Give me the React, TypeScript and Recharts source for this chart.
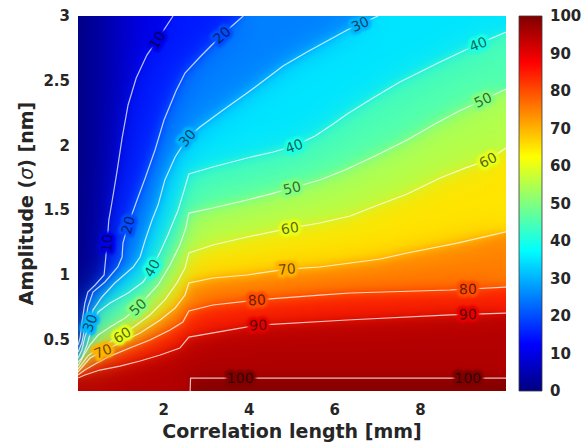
import React from "react"
import {
  Area,
  Bar,
  BarChart,
  CartesianGrid,
  ComposedChart,
  Label,
  Line,
  Scatter,
  XAxis,
  YAxis,
} from "recharts"

// contour lines: [correlation length (mm), amplitude (nm)]
const c10: [number, number][] = [
  [0, 0.456], [0.05, 0.51], [0.09, 0.626], [0.16, 0.78], [0.23, 0.865], [0.4, 0.92],
  [0.61, 0.997], [0.65, 1.136], [0.68, 1.244], [0.72, 1.422], [0.79, 1.554], [0.91, 1.794],
  [1.03, 2.056], [1.17, 2.312], [1.36, 2.52], [1.61, 2.698], [1.85, 2.814], [2.22, 3.0],
]
const c20: [number, number][] = [
  [0, 0.401], [0.09, 0.471], [0.16, 0.595], [0.23, 0.749], [0.35, 0.865], [0.63, 0.943],
  [0.93, 1.059], [1.03, 1.136], [1.05, 1.244], [1.17, 1.384], [1.38, 1.577], [1.57, 1.747],
  [1.8, 1.964], [2.01, 2.196], [2.29, 2.42], [2.5, 2.559], [2.85, 2.683], [3.36, 2.853], [3.86, 3.0],
]
const c30: [number, number][] = [
  [0, 0.355], [0.09, 0.417], [0.16, 0.517], [0.28, 0.626], [0.35, 0.726], [0.56, 0.827],
  [0.86, 0.935], [1.29, 1.059], [1.45, 1.136], [1.57, 1.268], [1.73, 1.422], [1.87, 1.538],
  [2.03, 1.732], [2.27, 1.91], [2.55, 2.056], [2.85, 2.142], [3.39, 2.273], [3.95, 2.404],
  [4.42, 2.52], [4.79, 2.613], [5.35, 2.722], [5.82, 2.807], [6.29, 2.892], [6.59, 2.938], [7.01, 3.0],
]
const c40: [number, number][] = [
  [0, 0.324], [0.09, 0.355], [0.21, 0.456], [0.33, 0.595], [0.47, 0.711], [0.75, 0.78],
  [1.17, 0.858], [1.52, 0.943], [1.73, 1.051], [1.92, 1.175], [2.1, 1.306], [2.34, 1.5],
  [2.48, 1.654], [2.59, 1.778], [3.15, 1.832], [3.95, 1.902], [4.56, 1.948], [5.05, 1.995],
  [5.54, 2.072], [5.96, 2.165], [6.29, 2.242], [6.89, 2.366], [7.52, 2.49], [8.46, 2.644],
  [9.35, 2.783], [10, 2.876],
]
const c50: [number, number][] = [
  [0, 0.293], [0.14, 0.378], [0.28, 0.456], [0.47, 0.533], [0.75, 0.595], [1.1, 0.664],
  [1.4, 0.749], [1.61, 0.827], [1.87, 0.92], [2.15, 1.074], [2.38, 1.229], [2.52, 1.36],
  [2.59, 1.476], [3.15, 1.515], [3.95, 1.577], [4.49, 1.623], [5.0, 1.67], [5.65, 1.732],
  [6.24, 1.809], [6.94, 1.917], [7.69, 2.041], [8.34, 2.165], [8.86, 2.258], [9.46, 2.35], [10, 2.435],
]
const c60: [number, number][] = [
  [0, 0.27], [0.23, 0.37], [0.47, 0.432], [0.75, 0.479], [1.03, 0.533], [1.33, 0.602],
  [1.68, 0.688], [2.03, 0.804], [2.31, 0.935], [2.5, 1.051], [2.59, 1.167], [3.15, 1.229],
  [3.95, 1.291], [4.95, 1.36], [5.65, 1.399], [6.36, 1.453], [6.89, 1.523], [7.69, 1.623],
  [8.46, 1.747], [9.04, 1.824], [9.58, 1.886], [10, 1.979],
]
const c70: [number, number][] = [
  [0, 0.247], [0.28, 0.355], [0.58, 0.409], [0.98, 0.471], [1.45, 0.548], [1.92, 0.649],
  [2.27, 0.742], [2.5, 0.842], [2.59, 0.935], [3.15, 0.974], [3.95, 0.997], [4.88, 1.043],
  [5.65, 1.059], [6.36, 1.09], [7.06, 1.121], [7.69, 1.167], [8.86, 1.244], [10, 1.33],
]
const c80: [number, number][] = [
  [0, 0.224], [0.16, 0.262], [0.4, 0.309], [0.75, 0.37], [1.21, 0.432], [1.68, 0.494],
  [2.15, 0.572], [2.45, 0.633], [2.59, 0.719], [3.15, 0.765], [4.18, 0.804], [5.65, 0.842],
  [6.36, 0.858], [8.69, 0.881], [10, 0.904],
]
const c90: [number, number][] = [
  [0, 0.2], [0.16, 0.224], [0.51, 0.262], [0.98, 0.293], [1.45, 0.332], [1.92, 0.378],
  [2.38, 0.432], [2.59, 0.517], [4.21, 0.61], [6.29, 0.649], [8.69, 0.688], [10, 0.703],
]
const c100: [number, number][] = [[2.62, 0.1], [2.63, 0.2], [10, 0.2]]

const levels = [10, 20, 30, 40, 50, 60, 70, 80, 90, 100]
const contours = [c10, c20, c30, c40, c50, c60, c70, c80, c90, c100]

// inline contour labels: [level, x, y, tilt in degrees]
const labels: [number, number, number, number][] = [
  [10, 1.85, 2.814, -58], [10, 0.68, 1.244, -85],
  [20, 3.36, 2.853, -42], [20, 1.17, 1.384, -74],
  [30, 2.55, 2.056, -50], [30, 6.59, 2.938, -24], [30, 0.28, 0.626, -70],
  [40, 1.73, 1.051, -60], [40, 5.05, 1.995, -20], [40, 9.35, 2.783, -22],
  [50, 1.4, 0.749, -44], [50, 5.0, 1.67, -14], [50, 9.46, 2.35, -25],
  [60, 1.03, 0.533, -32], [60, 4.95, 1.36, -9], [60, 9.58, 1.886, -27],
  [70, 0.58, 0.409, -22], [70, 4.88, 1.043, -5],
  [80, 4.18, 0.804, -4], [80, 9.11, 0.888, -1],
  [90, 4.21, 0.61, -3], [90, 9.11, 0.693, -1],
  [100, 3.79, 0.2, 0], [100, 9.11, 0.2, 0],
]

const xTicks = [2, 4, 6, 8]
const yTicks = [0.5, 1, 1.5, 2, 2.5, 3]
const barTicks = [0, 10, 20, 30, 40, 50, 60, 70, 80, 90, 100]
const barData = [{ k: "scale", v: 100 }]

const W = 588
const H = 442
const PLOT = { left: 78, top: 16, width: 428, height: 375 }
const X_DOMAIN: [number, number] = [0, 10]
const Y_DOMAIN: [number, number] = [0.1, 3]
const FONT = "'DejaVu Sans', Verdana, sans-serif"
const INK = "#262626"

function jet(v: number) {
  const t = v / 100
  const ch = (o: number) => Math.round(255 * Math.min(1, Math.max(0, 1.5 - Math.abs(4 * t - o))))
  return `rgb(${ch(3)},${ch(2)},${ch(1)})`
}

const toPts = (c: [number, number][]) => c.map(([x, y]) => ({ x, y }))

const lines = contours.map((c, i) => ({ level: levels[i], pts: toPts(c) }))
// filled region above each level: line, closed along the top edge where it leaves the plot
const regions = contours.map((c, i) => {
  const pts = toPts(c)
  const [lx, ly] = c[c.length - 1]
  if (ly >= Y_DOMAIN[1] && lx < X_DOMAIN[1]) pts.push({ x: X_DOMAIN[1], y: Y_DOMAIN[1] })
  const level = levels[i]
  return { level, pts, color: level === 100 ? jet(100) : jet(level + 5) }
})
const labelRows = labels.map(([level, x, y, tilt]) => ({ level, x, y, tilt }))

const fillMargin = {
  top: PLOT.top,
  left: PLOT.left,
  right: W - PLOT.left - PLOT.width,
  bottom: H - PLOT.top - PLOT.height,
}

function Fills() {
  return (
    <ComposedChart width={W} height={H} margin={fillMargin}>
      <defs>
        <linearGradient id="lowBand" x1="0" y1="0" x2="1" y2="0">
          <stop offset="0" stopColor={jet(0)} />
          <stop offset="0.15" stopColor={jet(10)} />
        </linearGradient>
      </defs>
      <XAxis type="number" dataKey="x" domain={X_DOMAIN} hide allowDataOverflow />
      <YAxis type="number" domain={Y_DOMAIN} hide allowDataOverflow />
      <CartesianGrid fill="url(#lowBand)" stroke="none" horizontal={false} vertical={false} />
      {regions.map((r) => (
        <Area
          key={r.level}
          data={r.pts}
          dataKey="y"
          type="linear"
          baseValue={Y_DOMAIN[0]}
          stroke="none"
          fill={r.color}
          fillOpacity={1}
          isAnimationActive={false}
        />
      ))}
    </ComposedChart>
  )
}

// a softened copy of the filled bands, clipped to the plot box
function SoftFills({ blur, opacity }: { blur: number; opacity: number }) {
  return (
    <div style={{ position: "absolute", left: PLOT.left, top: PLOT.top, width: PLOT.width, height: PLOT.height, overflow: "hidden", opacity }}>
      <div style={{ position: "absolute", left: -PLOT.left, top: -PLOT.top, filter: `blur(${blur}px)` }}>
        <Fills />
      </div>
    </div>
  )
}

function ContourLabel(props: any) {
  const { cx, cy, payload } = props
  if (cx == null || cy == null) return null
  const common = {
    x: cx,
    y: cy,
    transform: `rotate(${payload.tilt} ${cx} ${cy})`,
    textAnchor: "middle" as const,
    dominantBaseline: "central" as const,
    fontFamily: FONT,
    fontSize: 14,
  }
  return (
    <g>
      <text {...common} fill={jet(payload.level)} stroke={jet(payload.level)} strokeWidth={7} strokeLinejoin="round" filter="url(#halo)">
        {payload.level}
      </text>
      <text {...common} fill="rgba(0,0,0,0.62)">
        {payload.level}
      </text>
    </g>
  )
}

const tickStyle = { fontSize: 15, fontWeight: "bold", fill: INK, fontFamily: FONT }

function XTitle() {
  return (
    <text x={PLOT.left + PLOT.width / 2} y={438} textAnchor="middle" fontFamily={FONT} fontSize={19} fontWeight="bold" fill={INK}>
      Correlation length [mm]
    </text>
  )
}

function YTitle() {
  const cy = PLOT.top + PLOT.height / 2
  return (
    <text x={33} y={cy} transform={`rotate(-90 33 ${cy})`} textAnchor="middle" fontFamily={FONT} fontSize={19} fontWeight="bold" fill={INK}>
      Amplitude (<tspan fontStyle="italic" fontWeight="normal">σ</tspan>) [nm]
    </text>
  )
}

function Overlay() {
  const yW = 60
  const xH = 30
  return (
    <ComposedChart
      width={W}
      height={H}
      margin={{
        top: PLOT.top,
        left: PLOT.left - yW,
        right: W - PLOT.left - PLOT.width,
        bottom: H - PLOT.top - PLOT.height - xH,
      }}
    >
      <defs>
        <filter id="halo" x="-30%" y="-60%" width="160%" height="220%">
          <feGaussianBlur stdDeviation="1.3" />
        </filter>
      </defs>
      <XAxis
        type="number"
        dataKey="x"
        domain={X_DOMAIN}
        ticks={xTicks}
        interval={0}
        height={xH}
        tickLine={false}
        axisLine={false}
        tickSize={0}
        tickMargin={13}
        tick={tickStyle}
        allowDataOverflow
      >
        <Label content={XTitle} />
      </XAxis>
      <YAxis
        type="number"
        domain={Y_DOMAIN}
        ticks={yTicks}
        interval={0}
        width={yW}
        tickLine={false}
        axisLine={false}
        tickSize={0}
        tickMargin={8}
        tick={tickStyle}
        allowDataOverflow
      >
        <Label content={YTitle} />
      </YAxis>
      {lines.map((l) => (
        <Line
          key={l.level}
          data={l.pts}
          dataKey="y"
          type="linear"
          stroke="#ffffff"
          strokeOpacity={0.75}
          strokeWidth={1.2}
          dot={false}
          activeDot={false}
          isAnimationActive={false}
        />
      ))}
      <Scatter data={labelRows} dataKey="y" shape={ContourLabel} isAnimationActive={false} />
    </ComposedChart>
  )
}

function ColorBar() {
  return (
    <BarChart width={88} height={H} data={barData} margin={{ top: PLOT.top, right: 6, bottom: H - PLOT.top - PLOT.height, left: 19 }} barCategoryGap={0}>
      <defs>
        <linearGradient id="jetV" x1="0" y1="1" x2="0" y2="0">
          <stop offset="0" stopColor={jet(0)} />
          <stop offset="0.125" stopColor={jet(12.5)} />
          <stop offset="0.375" stopColor={jet(37.5)} />
          <stop offset="0.625" stopColor={jet(62.5)} />
          <stop offset="0.875" stopColor={jet(87.5)} />
          <stop offset="1" stopColor={jet(100)} />
        </linearGradient>
      </defs>
      <XAxis dataKey="k" hide />
      <YAxis
        orientation="right"
        domain={[0, 100]}
        ticks={barTicks}
        interval={0}
        width={40}
        tickLine={false}
        axisLine={false}
        tickSize={0}
        tickMargin={8}
        tick={tickStyle}
      />
      <Bar dataKey="v" fill="url(#jetV)" stroke="#3a3a3a" strokeWidth={0.8} isAnimationActive={false} />
    </BarChart>
  )
}

export default function App() {
  return (
    <div style={{ position: "absolute", left: 0, top: 0, width: W, height: H, background: "#fff", overflow: "hidden" }}>
      <div style={{ position: "absolute", left: 0, top: 0 }}>
        <Fills />
      </div>
      <SoftFills blur={15} opacity={1} />
      <SoftFills blur={5} opacity={0.45} />
      <div style={{ position: "absolute", left: 0, top: 0 }}>
        <Overlay />
      </div>
      <div style={{ position: "absolute", left: 500, top: 0 }}>
        <ColorBar />
      </div>
    </div>
  )
}
